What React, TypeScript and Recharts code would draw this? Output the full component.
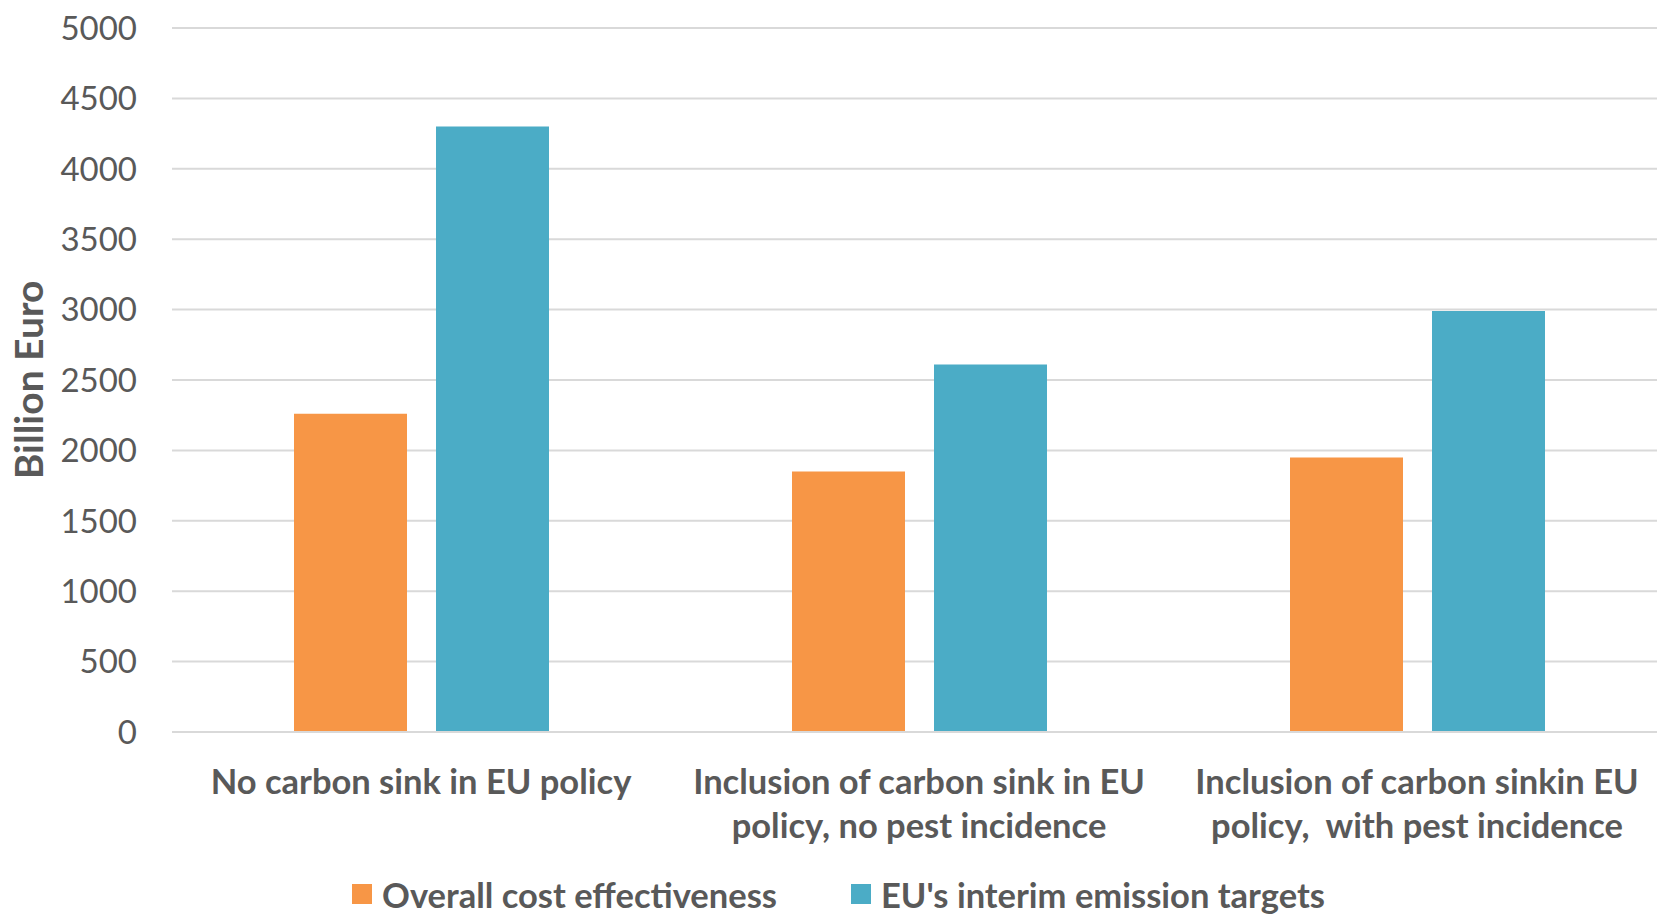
import { BarChart, Bar, XAxis, YAxis, CartesianGrid, Legend } from "recharts";

const categories = [
  "No carbon sink in EU policy",
  "Inclusion of carbon sink in EU\npolicy, no pest incidence",
  "Inclusion of carbon sinkin EU\npolicy,  with pest incidence",
];
const overallCost = [2260, 1850, 1950];
const interimTargets = [4300, 2610, 2990];
const yTicks = [0, 500, 1000, 1500, 2000, 2500, 3000, 3500, 4000, 4500, 5000];

const seriesNames = ["Overall cost effectiveness", "EU's interim emission targets"];
const ORANGE = "#F79646";
const BLUE = "#4BACC6";
const TEXT = "#595959";
const GRID = "#D9D9D9";
const FONT = "Lato, 'Open Sans', sans-serif";

const data = categories.map((name, i) => ({
  name,
  overall: overallCost[i],
  interim: interimTargets[i],
}));

const CategoryTick = (props: any) => {
  const { x, y, payload } = props;
  const lines = String(payload.value).split("\n");
  return (
    <text
      x={x}
      y={y}
      textAnchor="middle"
      fill={TEXT}
      fontFamily={FONT}
      fontWeight={700}
      fontSize={34.5}
      style={{ whiteSpace: "pre" }}
    >
      {lines.map((ln, i) => (
        <tspan key={i} x={x} dy={i === 0 ? 62 : 44}>
          {ln}
        </tspan>
      ))}
    </text>
  );
};

const AxisTitle = (props: any) => {
  const vb = props.viewBox || {};
  const cx = (vb.x ?? 0) + 28;
  const cy = (vb.y ?? 0) + (vb.height ?? 0) / 2;
  return (
    <text
      x={cx}
      y={cy}
      transform={`rotate(-90, ${cx}, ${cy})`}
      textAnchor="middle"
      dominantBaseline="central"
      fill={TEXT}
      fontFamily={FONT}
      fontWeight={700}
      fontSize={39}
    >
      Billion Euro
    </text>
  );
};

const LegendBox = (props: any) => {
  const items = [...(props.payload || [])].sort(
    (a: any, b: any) => seriesNames.indexOf(a.value) - seriesNames.indexOf(b.value)
  );
  return (
    <div
      style={{
        height: 44,
        display: "flex",
        alignItems: "center",
        justifyContent: "center",
        fontFamily: FONT,
        fontWeight: 700,
        fontSize: 34.5,
        color: TEXT,
        paddingLeft: 11,
      }}
    >
      {items.map((it: any, i: number) => (
        <span
          key={i}
          style={{ display: "inline-flex", alignItems: "center", marginRight: i === 0 ? 74 : 0 }}
        >
          <span
            style={{ width: 20, height: 20, background: it.color, display: "inline-block", marginRight: 10 }}
          />
          {it.value}
        </span>
      ))}
    </div>
  );
};

export default function App() {
  return (
    <div style={{ width: 1657, height: 916, background: "#fff", overflow: "hidden" }}>
      <style>{"body{margin:0}"}</style>
      <BarChart
        width={1666}
        height={916}
        data={data}
        margin={{ top: 28, right: 0, bottom: 0, left: 0 }}
        barGap={29}
        barCategoryGap={122}
      >
        <CartesianGrid vertical={false} stroke={GRID} strokeWidth={2} />
        <XAxis
          dataKey="name"
          height={140}
          axisLine={{ stroke: GRID, strokeWidth: 2 }}
          tickLine={false}
          tickSize={0}
          tickMargin={0}
          interval={0}
          tick={<CategoryTick />}
        />
        <YAxis
          width={172}
          domain={[0, 5000]}
          ticks={yTicks}
          interval={0}
          axisLine={false}
          tickLine={false}
          tickSize={0}
          tickMargin={35}
          tick={{ fill: TEXT, fontFamily: FONT, fontSize: 33 }}
          label={<AxisTitle />}
        />
        <Legend verticalAlign="bottom" align="center" content={<LegendBox />} />
        <Bar dataKey="overall" name={seriesNames[0]} fill={ORANGE} isAnimationActive={false} />
        <Bar dataKey="interim" name={seriesNames[1]} fill={BLUE} isAnimationActive={false} />
      </BarChart>
    </div>
  );
}
